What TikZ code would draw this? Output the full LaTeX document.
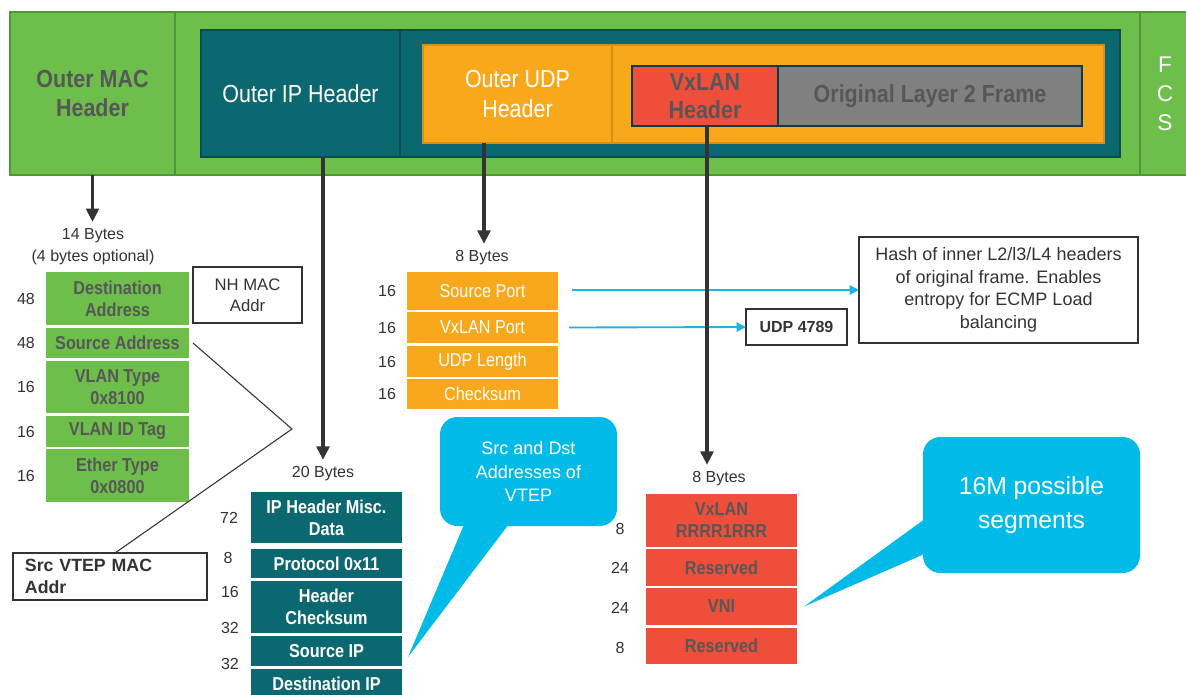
\documentclass[tikz,border=0pt]{standalone}
\usepackage{fontspec}
\setmainfont{Liberation Sans}
\newfontfamily\narrowfont{Liberation Sans}[FakeStretch=0.87]
\usetikzlibrary{arrows.meta,calc}

\definecolor{pktgreen}{HTML}{6DBE4B}
\definecolor{pktgreenline}{HTML}{4E9636}
\definecolor{pktteal}{HTML}{0C6870}
\definecolor{pkttealline}{HTML}{0A4C55}
\definecolor{pktorange}{HTML}{F9A81B}
\definecolor{pktorangeline}{HTML}{D9900F}
\definecolor{pktred}{HTML}{EF4E3A}
\definecolor{pktgray}{HTML}{808080}
\definecolor{pktnavy}{HTML}{0B3C4C}
\definecolor{pktcyan}{HTML}{00BAE8}
\definecolor{linecyan}{HTML}{1AB4E5}
\definecolor{txtgray}{HTML}{575757}
\definecolor{txtdark}{HTML}{333333}

\tikzset{
  wh/.style 2 args={minimum width=#1*0.75pt, minimum height=#2*0.75pt},
  cell/.style={anchor=north west, inner sep=0pt, outer sep=0pt, align=center},
  barcell/.style={cell, line width=1.5pt},
  barfont/.style={font=\narrowfont\fontsize{18.5}{22}\selectfont},
  barbold/.style={font=\narrowfont\bfseries\fontsize{18.5}{21.5}\selectfont},
  field/.style={cell, font=\narrowfont\bfseries\fontsize{14}{16.5}\selectfont},
  macf/.style={field, fill=pktgreen, text=txtgray},
  udpf/.style={cell, fill=pktorange, text=white, font=\narrowfont\fontsize{14}{16.5}\selectfont},
  ipf/.style={field, fill=pktteal, text=white},
  vxf/.style={field, fill=pktred, text=txtgray},
  bits/.style={text=txtdark, inner sep=0pt, font=\fontsize{12}{14}\selectfont},
  bytes/.style={text=txtdark, inner sep=0pt, align=center, font=\fontsize{12}{16.5}\selectfont},
  note/.style={cell, draw=txtdark, line width=0.9pt, text=txtdark},
  bubble/.style={cell, fill=pktcyan, text=white, rounded corners=13pt},
  darrow/.style={draw=txtdark, line width=2.4pt, -{Triangle[width=9.5pt,length=10pt]}, shorten >=5pt},
  carrow/.style={draw=linecyan, line width=1.4pt, -{Triangle[width=7pt,length=7pt]}},
}

\begin{document}
\begin{tikzpicture}[x=0.75pt,y=-0.75pt]
\useasboundingbox (0,0) rectangle (1186,694);
\fill[white] (0,0) rectangle (1186,694);

% ---------- encapsulated frame ----------
\node[barcell, wh={165}{163}, fill=pktgreen, draw=pktgreenline, text=txtgray, barbold] (macCell) at (10,12) {Outer MAC\\Header};
\node[barcell, wh={965}{163}, fill=pktgreen, draw=pktgreenline] (midCell) at (175,12) {};
\node[barcell, wh={50}{163}, fill=pktgreen, draw=pktgreenline, text=white, font=\fontsize{17}{21.75}\selectfont] (fcsCell) at (1140,12) {F\\C\\S};

\node[barcell, wh={199}{127}, fill=pktteal, draw=pkttealline, text=white, barfont] (ipCell) at (201,30) {Outer IP Header};
\node[barcell, wh={720}{127}, fill=pktteal, draw=pkttealline] (ipRest) at (400,30) {};

\node[barcell, wh={189}{98}, fill=pktorange, draw=pktorangeline, text=white, barfont] (udpCell) at (423,45) {Outer UDP\\Header};
\node[barcell, wh={492}{98}, fill=pktorange, draw=pktorangeline] (udpRest) at (612,45) {};

\node[barcell, wh={146}{60}, fill=pktred, draw=pktnavy, text=txtgray, barbold] (vxCell) at (632,66) {VxLAN\\Header};
\node[barcell, wh={304}{60}, fill=pktgray, draw=pktnavy, text=txtgray, barbold] (l2Cell) at (778,66) {Original Layer 2 Frame};

% ---------- outer MAC header fields ----------
\node[bytes] (macBytes) at (93,247) {14 Bytes\\(4 bytes optional)};
\node[macf, wh={143}{53}] (dst) at (46,272) {Destination\\Address};
\node[macf, wh={143}{30}] (srcAddr) at (46,328) {Source Address};
\node[macf, wh={143}{52}] (vtype) at (46,361) {VLAN Type\\0x8100};
\node[macf, wh={143}{31}] (vid) at (46,416) {VLAN ID Tag};
\node[macf, wh={143}{53}] (etype) at (46,449) {Ether Type\\0x0800};
\node[bits] (nDst) at ($(dst.west)+(-20,0)$) {48};
\node[bits] (nSrc) at ($(srcAddr.west)+(-20,0)$) {48};
\node[bits] (nVtype) at ($(vtype.west)+(-20,0)$) {16};
\node[bits] (nVid) at ($(vid.west)+(-20,0)$) {16};
\node[bits] (nEtype) at ($(etype.west)+(-20,0)$) {16};

\node[note, wh={109}{56}, font=\fontsize{12.5}{16}\selectfont] (nhMac) at (193,267) {NH MAC\\Addr};
\node[note, wh={194}{47}, inner xsep=9pt, text width=127.5pt, align=left,
      font=\bfseries\fontsize{13.3}{16.5}\selectfont] (vtep) at (13,553) {Src VTEP MAC\\Addr};
\coordinate (bend) at (292,429);
\coordinate (vtepTop) at (115,553);
\draw[txtdark, line width=0.8pt] ($(srcAddr.east)+(4,0)$) -- (bend) -- (vtepTop);

% ---------- outer UDP header fields ----------
\node[bytes] (udpBytes) at (482,258) {8 Bytes};
\node[udpf, wh={151}{38}] (sport) at (407,272) {Source Port};
\node[udpf, wh={151}{31}] (vport) at (407,312) {VxLAN Port};
\node[udpf, wh={151}{31}] (ulen) at (407,346) {UDP Length};
\node[udpf, wh={151}{30}] (csum) at (407,379) {Checksum};
\node[bits] (nSport) at ($(sport.west)+(-20,0)$) {16};
\node[bits] (nVport) at ($(vport.west)+(-20,0)$) {16};
\node[bits] (nUlen) at ($(ulen.west)+(-20,0)$) {16};
\node[bits] (nCsum) at ($(csum.west)+(-20,0)$) {16};

\node[note, wh={101}{36}, font=\bfseries\fontsize{12}{14}\selectfont] (udpPort) at (746,309) {UDP 4789};
\node[note, wh={279}{106}, font=\fontsize{13.5}{17}\selectfont] (hash) at (859,237)
  {Hash of inner L2/l3/L4 headers\\of original frame. Enables\\entropy for ECMP Load\\balancing};
\draw[carrow] ($(sport.east)+(14,-1)$) -- (hash.west |- 0,290);
\draw[carrow] ($(vport.east)+(11,0)$) -- (udpPort.west);

% ---------- outer IP header fields ----------
\node[bytes] (ipBytes) at (323,474) {20 Bytes};
\node[ipf, wh={151}{51}] (misc) at (251,492) {IP Header Misc.\\Data};
\node[ipf, wh={151}{29}] (proto) at (251,549) {Protocol 0x11};
\node[ipf, wh={151}{52}] (hcsum) at (251,581) {Header\\Checksum};
\node[ipf, wh={151}{30}] (srcip) at (251,636) {Source IP};
\node[ipf, wh={151}{29}] (dstip) at (251,669) {Destination IP};
\fill[pktteal] (dstip.south west) rectangle ($(dstip.south east)+(0,10)$);
\node[bits] (nMisc) at (229,518) {72};
\node[bits] (nProto) at (228,558) {8};
\node[bits] (nHcsum) at (230,592) {16};
\node[bits] (nSrcip) at (230,628) {32};
\node[bits] (nDstip) at (230,664) {32};

% ---------- VxLAN header fields ----------
\node[bytes] (vxBytes) at (719,479) {8 Bytes};
\node[vxf, wh={151}{53}] (flags) at (646,494) {VxLAN\\RRRR1RRR};
\node[vxf, wh={151}{37}] (res1) at (646,549) {Reserved};
\node[vxf, wh={151}{37}] (vni) at (646,588) {VNI};
\node[vxf, wh={151}{36}] (res2) at (646,628) {Reserved};
\node[bits] (nFlags) at (620,529) {8};
\node[bits] (nRes1) at (620,568) {24};
\node[bits] (nVni) at (620,608) {24};
\node[bits] (nRes2) at (620,648) {8};

% ---------- header arrows ----------
\draw[darrow] (macCell.south) -- (macCell.south |- macBytes.north);
\draw[darrow] (ipBytes.north |- ipCell.south) -- (ipBytes.north);
\draw[darrow] (484,0 |- udpCell.south) -- (484,0 |- udpBytes.north);
\draw[darrow] (707,0 |- vxCell.south) -- (707,0 |- vxBytes.north);

% ---------- callouts ----------
\node[bubble, wh={177}{109}, font=\fontsize{13.5}{17.5}\selectfont] (vtepNote) at (440,417) {Src and Dst\\Addresses of\\VTEP};
\fill[pktcyan] ($(vtepNote.south west)+(26,-6)$) -- ($(vtepNote.south west)+(72,-6)$) -- ($(srcip.east)+(6,6)$) -- cycle;

\node[bubble, wh={217}{136}, font=\fontsize{18.5}{25}\selectfont] (segNote) at (923,437) {16M possible\\segments};
\fill[pktcyan] ($(segNote.west)+(6,11)$) -- ($(segNote.west)+(6,47)$) -- ($(vni.east)+(7,0)$) -- cycle;
\end{tikzpicture}
\end{document}
